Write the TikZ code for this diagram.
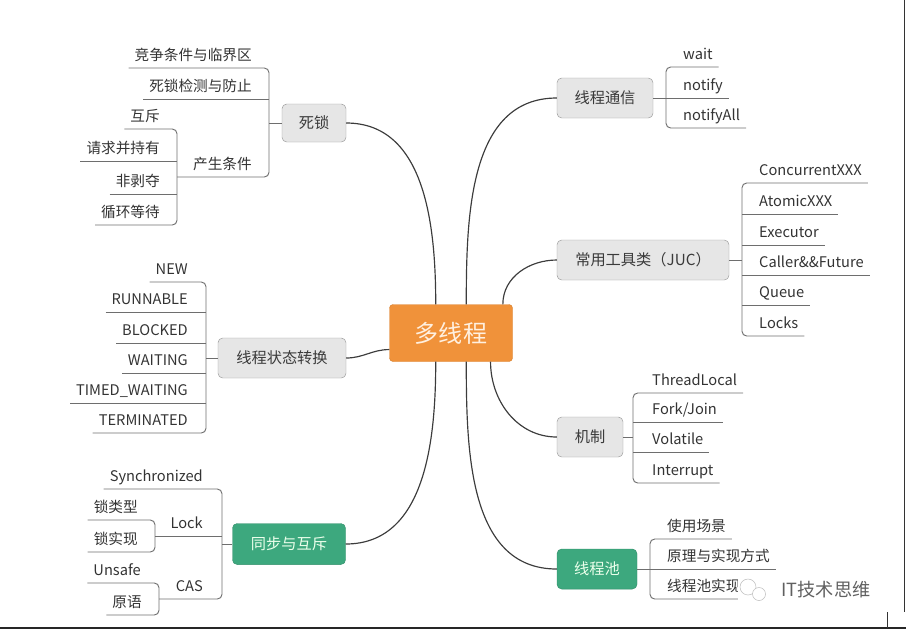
\documentclass[tikz,border=0pt]{standalone}
\usepackage{fontspec}
\setmainfont{Noto Sans CJK SC}
\usetikzlibrary{positioning}
\newcommand{\pxu}{0.03cm}
\definecolor{trunkc}{HTML}{3C3C3C}
\definecolor{twigc}{HTML}{6E6E6E}
\definecolor{boxgray}{HTML}{E6E6E6}
\definecolor{boxline}{HTML}{9A9A9A}
\definecolor{boxtext}{HTML}{3A3A3A}
\definecolor{leaftext}{HTML}{333333}
\definecolor{orangec}{HTML}{F0923A}
\definecolor{greenc}{HTML}{3DA87E}

\begin{document}
\begin{tikzpicture}[x=0.03cm, y=-0.03cm,
	topic/.style={draw=boxline, fill=boxgray, rounded corners=4pt, text=boxtext, inner sep=0pt,
		font=\fontsize{13pt}{15pt}\selectfont, minimum height=40*\pxu},
	greentopic/.style={topic, draw=greenc!85!black, fill=greenc, text=green!8},
	leaf/.style={inner xsep=0pt, inner ysep=0pt, text depth=0.21cm, text=leaftext,
		font=\fontsize{12.5pt}{15pt}\selectfont},
	trunk/.style={draw=trunkc, line width=1pt},
	twig/.style={draw=twigc, line width=0.8pt}]
\useasboundingbox (0,0) rectangle (906,631);

% centre
\node[draw=orangec!90!black, fill=orangec, rounded corners=3pt, text=orange!12, inner sep=0pt,
	minimum width=123*\pxu, minimum height=57*\pxu, font=\fontsize{20.5pt}{24pt}\selectfont] (center) at (451,333) {多线程};

% main topics
\node[topic, minimum width=64*\pxu, minimum height=38*\pxu] (sisuo) at (314,123) {死锁};
\node[topic, minimum width=128*\pxu] (state) at (282,358) {线程状态转换};
\node[greentopic, minimum width=113*\pxu, minimum height=41*\pxu] (sync) at (289,544) {同步与互斥};
\node[topic, minimum width=96*\pxu] (com) at (605,98) {线程通信};
\node[topic, minimum width=172*\pxu] (juc) at (643,260) {常用工具类（JUC）};
\node[topic, minimum width=66*\pxu] (mech) at (590,437) {机制};
\node[greentopic, minimum width=80*\pxu] (pool) at (597,569) {线程池};

\draw[trunk] (center.118) to[out=90,in=0] (sisuo.east);
\draw[trunk] (center.195) to[out=180,in=0] (state.east);
\draw[trunk] (center.-118) to[out=-90,in=0] (sync.east);
\draw[trunk] (center.62) to[out=90,in=180] (com.west);
\draw[trunk] (center.29) to[out=90,in=180] (juc.west);
\draw[trunk] (center.-36) to[out=-90,in=180] (mech.west);
\draw[trunk] (center.-62) to[out=-90,in=180] (pool.west);

% 死锁
\coordinate (dsb) at (269,123);
\coordinate (csb) at (177,177);
\node[leaf, anchor=south east] (ds1) at (252,68) {竞争条件与临界区};
\node[leaf, anchor=south east] (ds2) at (252,99) {死锁检测与防止};
\node[leaf, anchor=south east] (ds3) at (252,177) {产生条件};
\draw[twig] (sisuo.west) -- (dsb);
\draw[twig, rounded corners=4pt] ([xshift=-5pt]ds1.south west) -- (ds1.south -| dsb) -- (ds3.south -| dsb) -- (ds3.south -| csb);
\draw[twig] ([xshift=-5pt]ds2.south west) -- (ds2.south -| dsb);
\foreach \t/\y [count=\i] in {互斥/129, 请求并持有/161, 非剥夺/194, 循环等待/225}
	\node[leaf, anchor=south east] (cs\i) at (160,\y) {\t};
\draw[twig, rounded corners=4pt] ([xshift=-5pt]cs1.south west) -- (cs1.south -| csb) -- (cs4.south -| csb) -- ([xshift=-5pt]cs4.south west);
\foreach \i in {2,3} \draw[twig] ([xshift=-5pt]cs\i.south west) -- (cs\i.south -| csb);

% 线程状态转换
\coordinate (stb) at (206,358);
\foreach \t/\y [count=\i] in {NEW/282, RUNNABLE/312, BLOCKED/343, WAITING/373, TIMED\_WAITING/403, TERMINATED/433}
	\node[leaf, anchor=south east] (st\i) at (188,\y) {\t};
\draw[twig] (state.west) -- (stb);
\draw[twig, rounded corners=4pt] ([xshift=-5pt]st1.south west) -- (st1.south -| stb) -- (st6.south -| stb) -- ([xshift=-5pt]st6.south west);
\foreach \i in {2,...,5} \draw[twig] ([xshift=-5pt]st\i.south west) -- (st\i.south -| stb);

% 同步与互斥
\coordinate (syb) at (222,544);
\coordinate (lkb) at (155,536);
\coordinate (cab) at (159,599);
\node[leaf, anchor=south east] (sy1) at (203,489) {Synchronized};
\node[leaf, anchor=south east] (sy2) at (203,536) {Lock};
\node[leaf, anchor=south east] (sy3) at (203,599) {CAS};
\draw[twig] (sync.west) -- (syb);
\draw[twig, rounded corners=4pt] ([xshift=-5pt]sy1.south west) -- (sy1.south -| syb) -- (sy3.south -| syb) -- (sy3.south -| cab);
\draw[twig] (sy2.south -| lkb) -- (sy2.south -| syb);
\node[leaf, anchor=south east] (lk1) at (138,520) {锁类型};
\node[leaf, anchor=south east] (lk2) at (138,552) {锁实现};
\draw[twig, rounded corners=4pt] ([xshift=-5pt]lk1.south west) -- (lk1.south -| lkb) -- (lk2.south -| lkb) -- ([xshift=-5pt]lk2.south west);
\node[leaf, anchor=south east] (ca1) at (141,583) {Unsafe};
\node[leaf, anchor=south east] (ca2) at (142,615) {原语};
\draw[twig, rounded corners=4pt] ([xshift=-5pt]ca1.south west) -- (ca1.south -| cab) -- (ca2.south -| cab) -- ([xshift=-5pt]ca2.south west);

% 线程通信
\coordinate (cmb) at (666,98);
\foreach \t/\y [count=\i] in {wait/67, notify/98, notifyAll/128}
	\node[leaf, anchor=south west] (cm\i) at (683,\y) {\t};
\draw[twig] (com.east) -- (cmb);
\draw[twig, rounded corners=4pt] ([xshift=5pt]cm1.south east) -- (cm1.south -| cmb) -- (cm3.south -| cmb) -- ([xshift=5pt]cm3.south east);
\draw[twig] (cm2.south -| cmb) -- ([xshift=5pt]cm2.south east);

% 常用工具类
\coordinate (jub) at (742,260);
\foreach \t/\y [count=\i] in {ConcurrentXXX/183, AtomicXXX/214, Executor/245, Caller\&\&Future/275, Queue/305, Locks/336}
	\node[leaf, anchor=south west] (ju\i) at (759,\y) {\t};
\draw[twig] (juc.east) -- (jub);
\draw[twig, rounded corners=4pt] ([xshift=5pt]ju1.south east) -- (ju1.south -| jub) -- (ju6.south -| jub) -- ([xshift=5pt]ju6.south east);
\foreach \i in {2,...,5} \draw[twig] (ju\i.south -| jub) -- ([xshift=5pt]ju\i.south east);

% 机制
\coordinate (meb) at (633,437);
\foreach \t/\y [count=\i] in {ThreadLocal/393, {Fork/Join}/422, Volatile/452, Interrupt/483}
	\node[leaf, anchor=south west] (me\i) at (652,\y) {\t};
\draw[twig] (mech.east) -- (meb);
\draw[twig, rounded corners=4pt] ([xshift=5pt]me1.south east) -- (me1.south -| meb) -- (me4.south -| meb) -- ([xshift=5pt]me4.south east);
\foreach \i in {2,3} \draw[twig] (me\i.south -| meb) -- ([xshift=5pt]me\i.south east);

% 线程池
\coordinate (plb) at (650,569);
\foreach \t/\y [count=\i] in {使用场景/539, 原理与实现方式/569, 线程池实现/599}
	\node[leaf, anchor=south west] (pl\i) at (667,\y) {\t};
\draw[twig] (pool.east) -- (plb);
\draw[twig, rounded corners=4pt] ([xshift=5pt]pl1.south east) -- (pl1.south -| plb) -- (pl3.south -| plb) -- ([xshift=5pt]pl3.south east);
\draw[twig] (pl2.south -| plb) -- ([xshift=5pt]pl2.south east);

% watermark
\fill[white] (738,576) rectangle (770,604);
\draw[gray!55, fill=white] (748,587) circle (8);
\draw[gray!55, fill=white] (759,594) circle (6.5);
\node[text=gray!75!black, inner sep=0pt, font=\fontsize{15.5pt}{18pt}\selectfont] (wm) at (826,590) {IT技术思维};

% frame
\draw[black!85, line width=2pt] (0,628) -- (906,628);
\draw[black!80, line width=0.8pt] (904,0) -- (904,612);
\draw[black!80, line width=0.8pt] (887,612) -- (887,628);
\end{tikzpicture}
\end{document}
